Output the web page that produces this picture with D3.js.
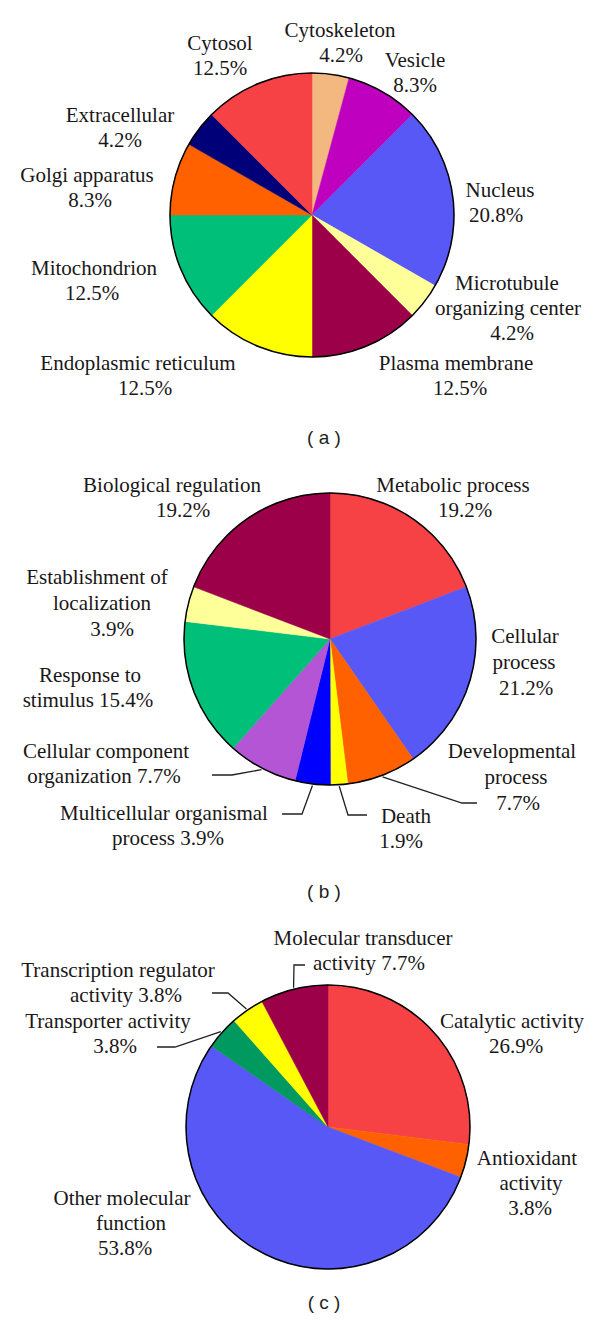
<!DOCTYPE html>
<html>
<head>
<meta charset="utf-8">
<script src="https://cdn.jsdelivr.net/npm/d3@7"></script>
<style>
  body { margin: 0; background: #fff; }
  .lbl { font-family: "Liberation Serif", "DejaVu Serif", serif; font-size: 21px; fill: #1a1718; }
  .panel { font-family: "Liberation Sans", Arial, sans-serif; font-size: 19px; fill: #231f20; }
</style>
</head>
<body>
<svg id="chart" width="600" height="1320"></svg>
<script>
// (a) cellular component, clockwise from 12 o'clock
var compNames = ["Cytoskeleton", "Vesicle", "Nucleus", "Microtubule organizing center", "Plasma membrane",
  "Endoplasmic reticulum", "Mitochondrion", "Golgi apparatus", "Extracellular", "Cytosol"];
var compValues = [4.2, 8.3, 20.8, 4.2, 12.5, 12.5, 12.5, 8.3, 4.2, 12.5];
var compLabels = [["Cytoskeleton", "{p}"], ["Vesicle", "{p}"], ["Nucleus", "{p}"],
  ["Microtubule", "organizing center", "{p}"], ["Plasma membrane", "{p}"], ["Endoplasmic reticulum", "{p}"],
  ["Mitochondrion", "{p}"], ["Golgi apparatus", "{p}"], ["Extracellular", "{p}"], ["Cytosol", "{p}"]];

// (b) biological process
var procNames = ["Metabolic process", "Cellular process", "Developmental process", "Death",
  "Multicellular organismal process", "Cellular component organization", "Response to stimulus",
  "Establishment of localization", "Biological regulation"];
var procValues = [19.2, 21.2, 7.7, 1.9, 3.9, 7.7, 15.4, 3.9, 19.2];
var procLabels = [["Metabolic process", "{p}"], ["Cellular", "process", "{p}"], ["Developmental", "process", "{p}"],
  ["Death", "{p}"], ["Multicellular organismal", "process {p}"], ["Cellular component", "organization {p}"],
  ["Response to", "stimulus {p}"], ["Establishment of", "localization", "{p}"], ["Biological regulation", "{p}"]];

// (c) molecular function
var funcNames = ["Catalytic activity", "Antioxidant activity", "Other molecular function",
  "Transporter activity", "Transcription regulator activity", "Molecular transducer activity"];
var funcValues = [26.9, 3.8, 53.8, 3.8, 3.8, 7.7];
var funcLabels = [["Catalytic activity", "{p}"], ["Antioxidant", "activity", "{p}"], ["Other molecular", "function", "{p}"],
  ["Transporter activity", "{p}"], ["Transcription regulator", "activity {p}"], ["Molecular transducer", "activity {p}"]];

var panelLetters = ["( a )", "( b )", "( c )"];

// colours
var compColors = ["#f2b880", "#bf00bf", "#5858f7", "#ffff99", "#9c0048", "#ffff00", "#00bf78", "#ff6000", "#000078", "#f74245"];
var procColors = ["#f74245", "#5858f7", "#ff6000", "#ffff00", "#0000ff", "#b455d6", "#00bf78", "#ffff99", "#9c0048"];
var funcColors = ["#f74245", "#ff6000", "#5858f7", "#00995f", "#ffff00", "#9c0048"];

// label layout: x per line, first baseline, line height
var compPos = [
  {xs: [340, 341], y: 37}, {xs: [415, 415], y: 67}, {xs: [500, 496], y: 197},
  {xs: [507, 508, 512], y: 290}, {xs: [456, 460], y: 370}, {xs: [138, 145], y: 370},
  {xs: [94, 92], y: 275}, {xs: [87, 90], y: 182}, {xs: [120, 120], y: 122}, {xs: [220, 220], y: 50}
];
var procPos = [
  {xs: [453, 465], y: 492}, {xs: [525, 524, 526], y: 643, lh: 26}, {xs: [512, 516, 518], y: 758, lh: 26},
  {xs: [406, 401], y: 823}, {xs: [164, 168], y: 820}, {xs: [106, 104], y: 758},
  {xs: [90, 88], y: 682}, {xs: [97, 102, 112], y: 584, lh: 26}, {xs: [172, 183], y: 492}
];
var funcPos = [
  {xs: [512, 516], y: 1028}, {xs: [527, 531, 530], y: 1165}, {xs: [122, 131, 125], y: 1205},
  {xs: [108, 115], y: 1028}, {xs: [118, 126], y: 977}, {xs: [363, 369], y: 945}
];

// leader lines: slice index, elbow, end (start is taken on the arc)
var procLeaders = [
  {i: 2, elbow: [462, 803], end: [477, 803]},
  {i: 3, elbow: [348, 815], end: [367, 815]},
  {i: 4, elbow: [302, 814], end: [282, 814]},
  {i: 5, elbow: [232, 775], end: [212, 775]}
];
var funcLeaders = [
  {i: 3, elbow: [175, 1047], end: [157, 1047]},
  {i: 4, elbow: [228, 993], end: [212, 993]},
  {i: 5, elbow: [294, 965], end: [305, 965]}
];

var charts = [
  {names: compNames, values: compValues, colors: compColors, labels: compLabels, pos: compPos, leaders: [],
   cx: 312, cy: 215, r: 142, letterY: 444},
  {names: procNames, values: procValues, colors: procColors, labels: procLabels, pos: procPos, leaders: procLeaders,
   cx: 330, cy: 639, r: 146, letterY: 898},
  {names: funcNames, values: funcValues, colors: funcColors, labels: funcLabels, pos: funcPos, leaders: funcLeaders,
   cx: 328, cy: 1127, r: 142, letterY: 1309}
];

var svg = d3.select("#chart");
var fmt = d3.format(".1f");

charts.forEach(function(c, k) {
  var pie = d3.pie().sort(null).value(function(d) { return d; });
  var arcs = pie(c.values);
  var arc = d3.arc().innerRadius(0).outerRadius(c.r);
  var color = d3.scaleOrdinal().domain(d3.range(c.values.length)).range(c.colors);

  var g = svg.append("g").attr("transform", "translate(" + c.cx + "," + c.cy + ")");

  g.selectAll("path.slice")
    .data(arcs)
    .enter().append("path")
      .attr("class", "slice")
      .attr("d", arc)
      .attr("fill", function(d, i) { return color(i); })
      .attr("stroke", function(d, i) { return color(i); })
      .attr("stroke-width", 0.5);

  g.append("circle")
    .attr("r", c.r)
    .attr("fill", "none")
    .attr("stroke", "#000")
    .attr("stroke-width", 1.5);

  // leader lines
  c.leaders.forEach(function(l) {
    var a = arcs[l.i];
    var mid = (a.startAngle + a.endAngle) / 2;
    var sx = c.cx + Math.sin(mid) * (c.r + 1.5),
        sy = c.cy - Math.cos(mid) * (c.r + 1.5);
    svg.append("polyline")
      .attr("points", [[sx, sy], l.elbow, l.end].map(function(p) { return p.join(","); }).join(" "))
      .attr("fill", "none")
      .attr("stroke", "#231f20")
      .attr("stroke-width", 1.3);
  });

  // labels
  c.labels.forEach(function(lines, i) {
    var p = c.pos[i], lh = p.lh || 25;
    var t = svg.append("text").attr("class", "lbl").attr("text-anchor", "middle")
      .style("font-family", "'Liberation Serif', 'DejaVu Serif', serif");
    lines.forEach(function(line, j) {
      t.append("tspan")
        .attr("x", p.xs[j])
        .attr("y", p.y + j * lh)
        .text(line.replace("{p}", fmt(c.values[i]) + "%"));
    });
  });

  svg.append("text")
    .attr("class", "panel")
    .attr("text-anchor", "middle")
    .attr("x", 324)
    .attr("y", c.letterY)
    .attr("xml:space", "preserve")
    .text(panelLetters[k]);
});
</script>
</body>
</html>
